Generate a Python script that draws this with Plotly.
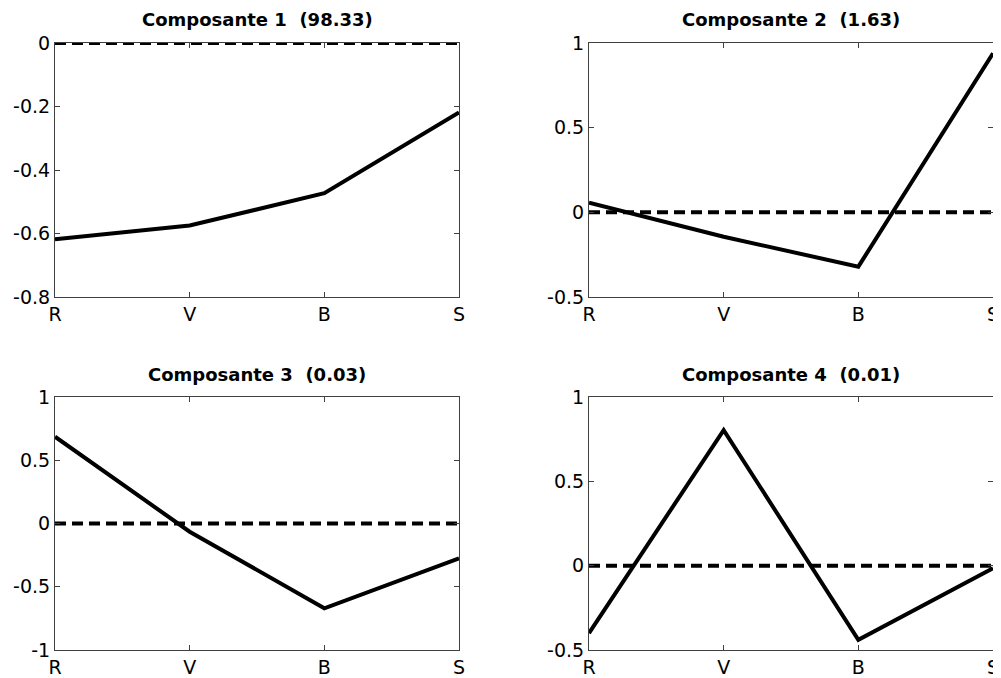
import plotly.graph_objects as go

categories = ["R", "V", "B", "S"]
cat_pos = [1, 2, 3, 4]

titles = ["Composante 1  (98.33)", "Composante 2  (1.63)",
          "Composante 3  (0.03)", "Composante 4  (0.01)"]

comp1 = [-0.618, -0.575, -0.473, -0.219]
comp2 = [0.057, -0.144, -0.321, 0.939]
comp3 = [0.686, -0.065, -0.670, -0.275]
comp4 = [-0.400, 0.804, -0.440, -0.015]
series = [comp1, comp2, comp3, comp4]

zero_ref = [0, 0, 0, 0]

y_ranges = [[-0.8, 0], [-0.5, 1], [-1, 1], [-0.5, 1]]
y_tickvals = [[-0.8, -0.6, -0.4, -0.2, 0], [-0.5, 0, 0.5, 1],
              [-1, -0.5, 0, 0.5, 1], [-0.5, 0, 0.5, 1]]
y_ticktext = [["-0.8", "-0.6", "-0.4", "-0.2", "0"], ["-0.5", "0", "0.5", "1"],
              ["-1", "-0.5", "0", "0.5", "1"], ["-0.5", "0", "0.5", "1"]]

# page has an 8px body margin; figure fills the rest of the 1001x678 window
OFF = 8
W, H = 1001 - OFF, 678 - OFF
# plot boxes in window pixels: (left, right, top, bottom)
boxes = [(55, 459, 43, 297), (589, 993, 43, 297),
         (55, 459, 397, 650), (589, 993, 397, 650)]
title_y = [20, 20, 374, 374]

FONT = "DejaVu Sans"
fig = go.Figure()
layout = dict(width=W, height=H, margin=dict(l=0, r=0, t=0, b=0, autoexpand=False),
              template="none",
              paper_bgcolor="white", plot_bgcolor="white", showlegend=False,
              annotations=[])

for i in range(4):
    xa = "x" if i == 0 else f"x{i+1}"
    ya = "y" if i == 0 else f"y{i+1}"
    l, r, t, b = [v - OFF for v in boxes[i]]
    fig.add_trace(go.Scatter(x=cat_pos, y=series[i], mode="lines",
                             line=dict(color="black", width=4),
                             xaxis=xa, yaxis=ya, hoverinfo="skip"))
    fig.add_trace(go.Scatter(x=cat_pos, y=zero_ref, mode="lines",
                             line=dict(color="black", width=4, dash="11px,6px"),
                             xaxis=xa, yaxis=ya, hoverinfo="skip"))
    axcommon = dict(showline=True, linecolor="#404040", linewidth=1, mirror="ticks",
                    ticks="inside", ticklen=5, tickcolor="#404040", tickwidth=1,
                    showgrid=False, zeroline=False, automargin=False,
                    tickfont=dict(family=FONT, size=19, color="black"))
    layout["xaxis" + ("" if i == 0 else str(i + 1))] = dict(
        domain=[l / W, r / W], range=[1, 4], tickvals=cat_pos, ticktext=categories,
        anchor=ya, **axcommon)
    layout["yaxis" + ("" if i == 0 else str(i + 1))] = dict(
        domain=[1 - b / H, 1 - t / H], range=y_ranges[i], tickvals=y_tickvals[i],
        ticktext=y_ticktext[i], anchor=xa, **axcommon)
    layout["annotations"].append(dict(
        text=f"<b>{titles[i]}</b>", x=(l + r) / 2 / W, y=1 - (title_y[i] - OFF) / H,
        xref="paper", yref="paper", showarrow=False, xanchor="center", yanchor="middle",
        font=dict(family=FONT, size=18, color="black")))

fig.update_layout(**layout)
fig.write_html("out.html")
